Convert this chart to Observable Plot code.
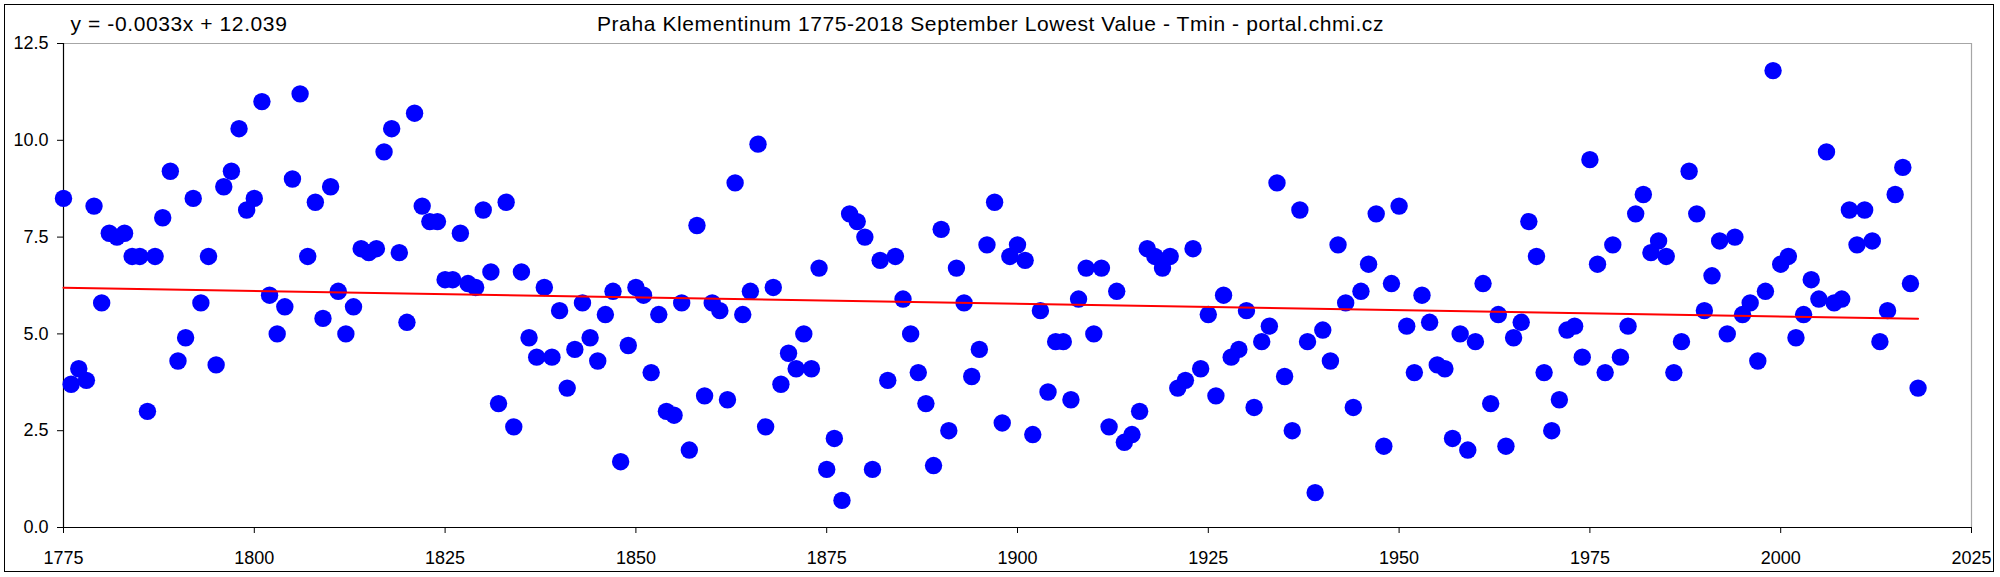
<!DOCTYPE html>
<html>
<head>
<meta charset="utf-8">
<script src="https://cdn.jsdelivr.net/npm/d3@7"></script>
<script src="https://cdn.jsdelivr.net/npm/@observablehq/plot@0.6"></script>
<style>
  html, body { margin: 0; padding: 0; background: #fff; }
  #wrap { position: relative; width: 2000px; height: 577px; }
  #border { position: absolute; left: 4px; top: 4px; width: 1990px; height: 568px; border: 1.5px solid #000; box-sizing: border-box; pointer-events: none; }
  svg { display: block; }
  .ttl { letter-spacing: 0.6px; }
</style>
</head>
<body>
<div id="wrap"><div id="border"></div></div>
<script>
const title = "Praha Klementinum 1775-2018 September Lowest Value - Tmin - portal.chmi.cz";
const equation = "y = -0.0033x + 12.039";
const firstYear = 1775;
const lastYear = 2018;
const xTicks = [1775, 1800, 1825, 1850, 1875, 1900, 1925, 1950, 1975, 2000, 2025];
const yTicks = [0, 2.5, 5, 7.5, 10, 12.5];
const tmin = [
  8.5, 3.7, 4.1, 3.8, 8.3, 5.8, 7.6, 7.5, 7.6, 7.0,
  7.0, 3.0, 7.0, 8.0, 9.2, 4.3, 4.9, 8.5, 5.8, 7.0,
  4.2, 8.8, 9.2, 10.3, 8.2, 8.5, 11.0, 6.0, 5.0, 5.7,
  9.0, 11.2, 7.0, 8.4, 5.4, 8.8, 6.1, 5.0, 5.7, 7.2,
  7.1, 7.2, 9.7, 10.3, 7.1, 5.3, 10.7, 8.3, 7.9, 7.9,
  6.4, 6.4, 7.6, 6.3, 6.2, 8.2, 6.6, 3.2, 8.4, 2.6,
  6.6, 4.9, 4.4, 6.2, 4.4, 5.6, 3.6, 4.6, 5.8, 4.9,
  4.3, 5.5, 6.1, 1.7, 4.7, 6.2, 6.0, 4.0, 5.5, 3.0,
  2.9, 5.8, 2.0, 7.8, 3.4, 5.8, 5.6, 3.3, 8.9, 5.5,
  6.1, 9.9, 2.6, 6.2, 3.7, 4.5, 4.1, 5.0, 4.1, 6.7,
  1.5, 2.3, 0.7, 8.1, 7.9, 7.5, 1.5, 6.9, 3.8, 7.0,
  5.9, 5.0, 4.0, 3.2, 1.6, 7.7, 2.5, 6.7, 5.8, 3.9,
  4.6, 7.3, 8.4, 2.7, 7.0, 7.3, 6.9, 2.4, 5.6, 3.5,
  4.8, 4.8, 3.3, 5.9, 6.7, 5.0, 6.7, 2.6, 6.1, 2.2,
  2.4, 3.0, 7.2, 7.0, 6.7, 7.0, 3.6, 3.8, 7.2, 4.1,
  5.5, 3.4, 6.0, 4.4, 4.6, 5.6, 3.1, 4.8, 5.2, 8.9,
  3.9, 2.5, 8.2, 4.8, 0.9, 5.1, 4.3, 7.3, 5.8, 3.1,
  6.1, 6.8, 8.1, 2.1, 6.3, 8.3, 5.2, 4.0, 6.0, 5.3,
  4.2, 4.1, 2.3, 5.0, 2.0, 4.8, 6.3, 3.2, 5.5, 2.1,
  4.9, 5.3, 7.9, 7.0, 4.0, 2.5, 3.3, 5.1, 5.2, 4.4,
  9.5, 6.8, 4.0, 7.3, 4.4, 5.2, 8.1, 8.6, 7.1, 7.4,
  7.0, 4.0, 4.8, 9.2, 8.1, 5.6, 6.5, 7.4, 5.0, 7.5,
  5.5, 5.8, 4.3, 6.1, 11.8, 6.8, 7.0, 4.9, 5.5, 6.4,
  5.9, 9.7, 5.8, 5.9, 8.2, 7.3, 8.2, 7.4, 4.8, 5.6,
  8.6, 9.3, 6.3, 3.6
];

const years = d3.range(firstYear, lastYear + 1);
const data = years.map((year, i) => ({year, value: tmin[i]}));

const font = "'Liberation Sans', Arial, Helvetica, sans-serif";

const chart = Plot.plot({
  width: 2000,
  height: 577,
  marginLeft: 63,
  marginRight: 29,
  marginTop: 43,
  marginBottom: 50,
  style: {fontFamily: font, fontSize: "18px", color: "#000", background: "transparent", overflow: "visible"},
  x: {domain: [1775, 2025]},
  y: {domain: [0, 12.5]},
  marks: [
    Plot.ruleY([12.5], {stroke: "#a6a6a6", strokeWidth: 1.2}),
    Plot.ruleX([2025], {stroke: "#a6a6a6", strokeWidth: 1.2}),
    Plot.axisY({ticks: yTicks, tickSize: 6, tickPadding: 9, tickFormat: d3.format(".1f"), fontSize: 18, label: null, stroke: "#000"}),
    Plot.axisX({ticks: xTicks, tickSize: 6, tickPadding: 18, tickFormat: d => String(d), fontSize: 18, label: null, stroke: "#000"}),
    Plot.ruleX([1775], {stroke: "#000", strokeWidth: 1.2}),
    Plot.ruleY([0], {stroke: "#000", strokeWidth: 1.2}),
    Plot.dot(data, {x: "year", y: "value", r: 8.7, fill: "#0000ff", stroke: "none"}),
    Plot.linearRegressionY(data, {x: "year", y: "value", stroke: "#ff0000", strokeWidth: 2, ci: 0}),
    Plot.text([title], {frameAnchor: "top", text: d => d, dx: -27, dy: -19, lineAnchor: "middle", fontSize: 21, fill: "#000", className: "ttl"}),
    Plot.text([equation], {frameAnchor: "top-left", text: d => d, textAnchor: "start", dx: 7, dy: -19, lineAnchor: "middle", fontSize: 21, fill: "#000", className: "ttl"})
  ]
});

document.getElementById("wrap").appendChild(chart);
</script>
</body>
</html>
